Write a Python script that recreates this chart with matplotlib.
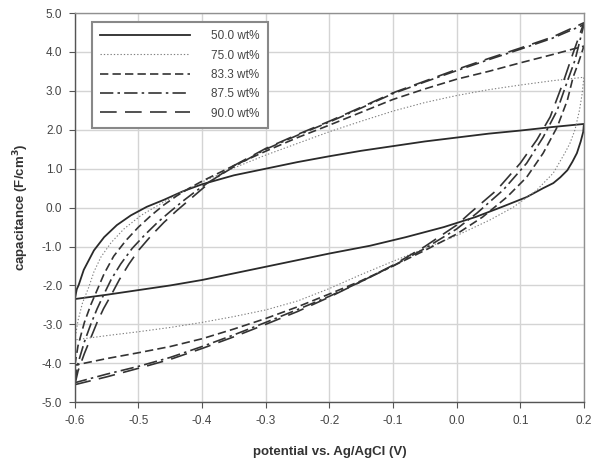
import matplotlib.pyplot as plt

plt.rcParams['font.family'] = ['Liberation Sans', 'DejaVu Sans']

labels = ['50.0 wt%', '75.0 wt%', '83.3 wt%', '87.5 wt%', '90.0 wt%']

# anodic sweep (-0.6 -> 0.2 V), potential / capacitance
up_50_v = [-0.6, -0.597, -0.594, -0.586, -0.57, -0.554, -0.534, -0.512, -0.487, -0.46, -0.43, -0.4,
           -0.35, -0.3, -0.25, -0.2, -0.15, -0.1, -0.05, 0.0, 0.05, 0.1, 0.15, 0.2]
up_50_c = [-2.35, -2.1, -1.99, -1.6, -1.1, -0.76, -0.45, -0.2, 0.02, 0.2, 0.42, 0.6,
           0.83, 1.0, 1.17, 1.32, 1.46, 1.58, 1.7, 1.8, 1.9, 1.98, 2.07, 2.15]

up_75_v = [-0.6, -0.595, -0.588, -0.578, -0.57, -0.559, -0.543, -0.523, -0.496, -0.465, -0.43, -0.4,
           -0.35, -0.3, -0.25, -0.2, -0.15, -0.1, -0.05, 0.0, 0.05, 0.1, 0.15, 0.2]
up_75_c = [-3.4, -2.9, -2.45, -2.04, -1.65, -1.27, -0.9, -0.55, -0.2, 0.1, 0.42, 0.66,
           1.02, 1.35, 1.65, 1.95, 2.22, 2.48, 2.7, 2.88, 3.03, 3.15, 3.26, 3.35]

up_83_v = [-0.6, -0.595, -0.585, -0.575, -0.565, -0.554, -0.539, -0.52, -0.5, -0.48, -0.46, -0.44, -0.42,
           -0.4, -0.35, -0.3, -0.25, -0.2, -0.15, -0.1, -0.05, 0.0, 0.05, 0.1, 0.15, 0.2]
up_83_c = [-4.05, -3.55, -2.95, -2.5, -2.12, -1.7, -1.25, -0.85, -0.5, -0.2, 0.07, 0.3, 0.5,
           0.68, 1.08, 1.45, 1.8, 2.12, 2.45, 2.78, 3.05, 3.3, 3.5, 3.72, 3.93, 4.15]

up_87_v = [-0.6, -0.595, -0.585, -0.575, -0.565, -0.555, -0.543, -0.528, -0.51, -0.49, -0.47, -0.45, -0.43,
           -0.41, -0.39, -0.35, -0.3, -0.25, -0.2, -0.15, -0.1, -0.05, 0.0, 0.05, 0.1, 0.15, 0.2]
up_87_c = [-4.5, -4.0, -3.45, -3.0, -2.6, -2.25, -1.85, -1.45, -1.05, -0.7, -0.38, -0.1, 0.17,
           0.42, 0.65, 1.05, 1.5, 1.86, 2.2, 2.56, 2.93, 3.23, 3.52, 3.8, 4.07, 4.35, 4.7]

up_90_v = [-0.6, -0.595, -0.585, -0.575, -0.565, -0.555, -0.543, -0.53, -0.515, -0.5, -0.48, -0.46, -0.44,
           -0.42, -0.4, -0.38, -0.35, -0.3, -0.25, -0.2, -0.15, -0.1, -0.05, 0.0, 0.05, 0.1, 0.15, 0.2]
up_90_c = [-4.55, -4.2, -3.75, -3.35, -2.95, -2.6, -2.25, -1.85, -1.45, -1.1, -0.72, -0.38, -0.08,
           0.2, 0.48, 0.75, 1.08, 1.52, 1.88, 2.22, 2.58, 2.95, 3.25, 3.55, 3.83, 4.1, 4.38, 4.75]

# cathodic sweep (0.2 -> -0.6 V)
dn_50_v = [0.2, 0.199, 0.195, 0.189, 0.182, 0.174, 0.163, 0.152, 0.136, 0.11, 0.07, 0.03, -0.02,
           -0.08, -0.136, -0.2, -0.25, -0.3, -0.35, -0.4, -0.45, -0.5, -0.55, -0.6]
dn_50_c = [2.15, 1.95, 1.7, 1.4, 1.18, 0.96, 0.78, 0.63, 0.5, 0.27, 0.01, -0.24, -0.5,
           -0.76, -0.98, -1.18, -1.35, -1.52, -1.69, -1.86, -2.0, -2.12, -2.24, -2.35]

dn_75_v = [0.2, 0.197, 0.193, 0.186, 0.178, 0.17, 0.152, 0.126, 0.089, 0.052, 0.0, -0.05, -0.1,
           -0.15, -0.2, -0.25, -0.3, -0.35, -0.4, -0.45, -0.5, -0.55, -0.6]
dn_75_c = [3.35, 2.9, 2.5, 2.0, 1.65, 1.4, 0.89, 0.45, 0.01, -0.32, -0.72, -1.05, -1.38,
           -1.72, -2.08, -2.4, -2.63, -2.8, -2.95, -3.08, -3.19, -3.29, -3.4]

dn_83_v = [0.2, 0.192, 0.183, 0.174, 0.158, 0.136, 0.11, 0.079, 0.041, 0.0, -0.05, -0.1,
           -0.15, -0.2, -0.25, -0.3, -0.35, -0.4, -0.45, -0.5, -0.55, -0.6]
dn_83_c = [4.15, 3.75, 3.35, 2.76, 2.07, 1.4, 0.78, 0.27, -0.24, -0.68, -1.1, -1.5,
           -1.88, -2.22, -2.55, -2.85, -3.12, -3.37, -3.57, -3.73, -3.88, -4.05]

dn_87_v = [0.2, 0.186, 0.173, 0.158, 0.136, 0.11, 0.073, 0.032, 0.0, -0.05, -0.1,
           -0.15, -0.2, -0.25, -0.3, -0.35, -0.4, -0.45, -0.5, -0.55, -0.6]
dn_87_c = [4.7, 3.79, 3.2, 2.5, 1.81, 1.14, 0.45, -0.14, -0.55, -1.05, -1.5,
           -1.9, -2.28, -2.62, -2.95, -3.27, -3.57, -3.85, -4.08, -4.28, -4.5]

dn_90_v = [0.2, 0.183, 0.167, 0.147, 0.126, 0.1, 0.063, 0.021, 0.0, -0.05, -0.1,
           -0.15, -0.2, -0.25, -0.3, -0.35, -0.4, -0.45, -0.5, -0.55, -0.6]
dn_90_c = [4.75, 3.97, 3.2, 2.33, 1.74, 1.14, 0.45, -0.14, -0.45, -1.0, -1.48,
           -1.9, -2.3, -2.67, -3.0, -3.32, -3.62, -3.9, -4.13, -4.35, -4.55]

loops = [
    (up_50_v + dn_50_v, up_50_c + dn_50_c),
    (up_75_v + dn_75_v, up_75_c + dn_75_c),
    (up_83_v + dn_83_v, up_83_c + dn_83_c),
    (up_87_v + dn_87_v, up_87_c + dn_87_c),
    (up_90_v + dn_90_v, up_90_c + dn_90_c),
]
styles = [
    dict(ls='-', lw=1.3, color='#2a2a2a'),
    dict(ls=(0, (1.2, 1.8)), lw=0.8, color='#808080'),
    dict(ls=(0, (5, 2.5)), lw=1.2, color='#333333'),
    dict(ls=(0, (8, 2.5, 1.5, 2.5)), lw=1.2, color='#333333'),
    dict(ls=(0, (10, 5)), lw=1.2, color='#333333'),
]

fig = plt.figure(figsize=(5.94, 4.66), dpi=100)
ax = fig.add_axes([0.126, 0.137, 0.857, 0.835])

for (v, c), st, lab in zip(loops, styles, labels):
    ax.plot(v, c, label=lab, **st)

ax.set_xlim(-0.6, 0.2)
ax.set_ylim(-5, 5)
ax.set_xticks([-0.6 + 0.1 * i for i in range(9)])
ax.set_yticks(range(-5, 6))
ax.xaxis.set_major_formatter(plt.FormatStrFormatter('%.1f'))
ax.yaxis.set_major_formatter(plt.FormatStrFormatter('%.1f'))
ax.tick_params(direction='out', length=4, width=0.8, color='#555555',
               labelsize=8.5, labelcolor='#444444', pad=5)
ax.grid(True, color='#d4d4d4', lw=1)
ax.set_axisbelow(True)
for side in ['left', 'bottom']:
    ax.spines[side].set_color('#555555')
for side in ['top', 'right']:
    ax.spines[side].set_color('#909090')
for s in ax.spines.values():
    s.set_linewidth(1.0)

ax.set_xlabel('potential vs. Ag/AgCl (V)', fontsize=9.5, fontweight='bold',
              color='#333333', labelpad=14)
ax.set_ylabel('capacitance (F/cm$^\\mathbf{3}$)', fontsize=9.5, fontweight='bold',
              color='#333333', labelpad=8)

leg = ax.legend(loc='upper left', bbox_to_anchor=(0.033, 0.977), borderaxespad=0,
                fontsize=8.5, handlelength=7.6, handletextpad=1.8, labelspacing=0.62,
                fancybox=False, framealpha=1, edgecolor='#888888', borderpad=0.7)
leg.get_frame().set_linewidth(1.5)
for t in leg.get_texts():
    t.set_color('#444444')

fig.savefig('out.png', dpi=100)
